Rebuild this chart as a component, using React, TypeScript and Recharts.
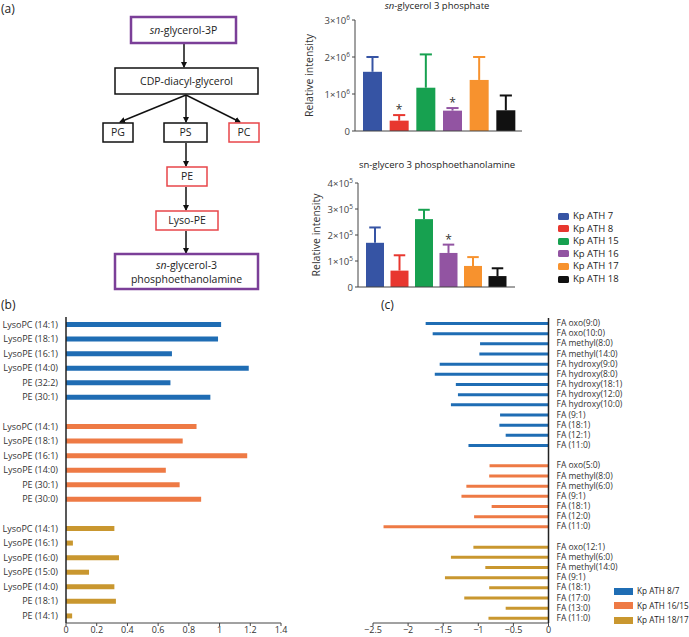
import * as React from "react";
import {
    BarChart, Bar, XAxis, YAxis, Cell, Label,
} from "recharts";

const FONT = "'Open Sans', sans-serif";

// panel (a) bar charts
const strains = ["Kp ATH 7", "Kp ATH 8", "Kp ATH 15", "Kp ATH 16", "Kp ATH 17", "Kp ATH 18"];
const strainColors = ["#3654a4", "#e8372f", "#17a150", "#9254a2", "#f7922e", "#111111"];

const g3pMean = [1.6e6, 0.28e6, 1.17e6, 0.55e6, 1.38e6, 0.56e6];
const g3pErr = [0.4e6, 0.15e6, 0.9e6, 0.07e6, 0.62e6, 0.4e6];
const g3pSig = [false, true, false, true, false, false];
const g3pTicks = [0, 1e6, 2e6, 3e6];

const gpeMean = [1.7e5, 0.63e5, 2.61e5, 1.31e5, 0.81e5, 0.42e5];
const gpeErr = [0.59e5, 0.59e5, 0.36e5, 0.32e5, 0.34e5, 0.3e5];
const gpeSig = [false, false, false, true, false, false];
const gpeTicks = [0, 1e5, 2e5, 3e5, 4e5];

// panel (b) lipids
const bBlueLabels = ["LysoPC (14:1)", "LysoPE (18:1)", "LysoPE (16:1)", "LysoPE (14:0)", "PE (32:2)", "PE (30:1)"];
const bBlueValues = [1.01, 0.99, 0.69, 1.19, 0.68, 0.94];
const bOrangeLabels = ["LysoPC (14:1)", "LysoPE (18:1)", "LysoPE (16:1)", "LysoPE (14:0)", "PE (30:1)", "PE (30:0)"];
const bOrangeValues = [0.85, 0.76, 1.18, 0.65, 0.74, 0.88];
const bGoldLabels = ["LysoPC (14:1)", "LysoPE (16:1)", "LysoPE (16:0)", "LysoPE (15:0)", "LysoPE (14:0)", "PE (18:1)", "PE (14:1)"];
const bGoldValues = [0.315, 0.045, 0.345, 0.15, 0.315, 0.325, 0.04];
const bTicks = [0, 0.2, 0.4, 0.6, 0.8, 1, 1.2, 1.4];

// panel (c) fatty acids
const cBlueLabels = ["FA oxo(9:0)", "FA oxo(10:0)", "FA methyl(8:0)", "FA methyl(14:0)", "FA hydroxy(9:0)", "FA hydroxy(8:0)",
    "FA hydroxy(18:1)", "FA hydroxy(12:0)", "FA hydroxy(10:0)", "FA (9:1)", "FA (18:1)", "FA (12:1)", "FA (11:0)"];
const cBlueValues = [-1.75, -1.65, -0.975, -0.985, -1.55, -1.62, -1.32, -1.29, -1.39, -0.69, -0.7, -0.61, -1.14];
const cOrangeLabels = ["FA oxo(5:0)", "FA methyl(8:0)", "FA methyl(6:0)", "FA (9:1)", "FA (18:1)", "FA (12:0)", "FA (11:0)"];
const cOrangeValues = [-0.84, -0.845, -1.17, -1.24, -0.81, -1.06, -2.35];
const cGoldLabels = ["FA oxo(12:1)", "FA methyl(6:0)", "FA methyl(14:0)", "FA (9:1)", "FA (18:1)", "FA (17:0)", "FA (13:0)", "FA (11:0)"];
const cGoldValues = [-1.07, -1.39, -0.9, -1.475, -0.845, -1.2, -0.61, -0.855];
const cTicks = [-2.5, -2, -1.5, -1, -0.5, 0];

const ratioNames = ["Kp ATH 8/7", "Kp ATH 16/15", "Kp ATH 18/17"];
const ratioColors = ["#1f6db4", "#ee7a45", "#c9972f"];

type Row = { key: string; label: string; value: number | null; group: number };

function buildRows(groups: Array<[string[], number[]]>): Row[] {
    const rows: Row[] = [];
    groups.forEach(([labels, values], g) => {
        if (g > 0) rows.push({ key: "gap" + g, label: "", value: null, group: -1 });
        labels.forEach((l, i) => rows.push({ key: g + "-" + i, label: l, value: values[i], group: g }));
    });
    return rows;
}

const bRows = buildRows([[bBlueLabels, bBlueValues], [bOrangeLabels, bOrangeValues], [bGoldLabels, bGoldValues]]);
const cRows = buildRows([[cBlueLabels, cBlueValues], [cOrangeLabels, cOrangeValues], [cGoldLabels, cGoldValues]]);

const g3pData = strains.map((s, i) => ({ name: s, value: g3pMean[i], err: g3pErr[i], sig: g3pSig[i] }));
const gpeData = strains.map((s, i) => ({ name: s, value: gpeMean[i], err: gpeErr[i], sig: gpeSig[i] }));

// bar + one-sided error bar, coloured per strain
const ErrBarShape = (props: any) => {
    const { x, y, width, height, payload, index } = props;
    if (!height || height <= 0) return null;
    const color = strainColors[index];
    const perUnit = height / payload.value;
    const top = y - payload.err * perUnit;
    const cx = x + width / 2;
    const cap = width * 0.32;
    return (
        <g>
            <line x1={cx} y1={y} x2={cx} y2={top} stroke={color} strokeWidth={2} />
            <line x1={cx - cap} x2={cx + cap} y1={top} y2={top} stroke={color} strokeWidth={2} />
            <rect x={x} y={y} width={width} height={height} fill={color} />
            {payload.sig && (
                <text x={cx} y={top - 1} textAnchor="middle" fontSize={12} fill="#333" fontFamily={FONT}>*</text>
            )}
        </g>
    );
};

const makeSciTick = (exp: number) => (props: any) => {
    const { x, y, payload } = props;
    const m = Math.round(payload.value / Math.pow(10, exp));
    return (
        <text x={x} y={y} dy={3.5} textAnchor="end" fontSize={9.5} fill="#444" fontFamily={FONT}>
            {m === 0 ? "0" : <>{m}×10<tspan dy={-4} fontSize={6.5}>{exp}</tspan></>}
        </text>
    );
};

// category tick that never wraps
const makeRowTick = (rows: Row[], anchor: "start" | "end", size: number) => (props: any) => {
    const { x, y, payload } = props;
    const row = rows.find((r) => r.key === payload.value);
    return (
        <text x={x} y={y} dy={size * 0.36} textAnchor={anchor} fontSize={size} fill="#333" fontFamily={FONT}>
            {row ? row.label : ""}
        </text>
    );
};

const Pathway = () => {
    const purple = "#7b3f98";
    const red = "#e8464a";
    const box = (x: number, y: number, w: number, h: number, stroke: string, sw: number) => (
        <rect x={x} y={y} width={w} height={h} fill="#fff" stroke={stroke} strokeWidth={sw} />
    );
    const arrow = (x1: number, y1: number, x2: number, y2: number) => (
        <line x1={x1} y1={y1} x2={x2} y2={y2} stroke="#111" strokeWidth={1.5} markerEnd="url(#ah)" />
    );
    const t = (x: number, y: number, s: React.ReactNode) => (
        <text x={x} y={y} textAnchor="middle" fontSize={10.5} fill="#222" fontFamily={FONT}>{s}</text>
    );
    return (
        <svg width={290} height={295} style={{ position: "absolute", left: 0, top: 0 }}>
            <defs>
                <marker id="ah" markerWidth={6} markerHeight={6} refX={5} refY={3} orient="auto" markerUnits="userSpaceOnUse">
                    <path d="M0,0 L6,3 L0,6 z" fill="#111" />
                </marker>
            </defs>
            {arrow(184, 44, 184, 67)}
            {arrow(186, 95, 120, 122)}
            {arrow(186, 95, 186, 122)}
            {arrow(186, 95, 240, 122)}
            {arrow(186, 143, 186, 166)}
            {arrow(186, 187, 186, 210)}
            {arrow(186, 231, 186, 253)}
            {box(131, 17, 105, 26, purple, 2.5)}
            {t(183.5, 34, <><tspan fontStyle="italic">sn</tspan>-glycerol-3P</>)}
            {box(115, 68, 143, 26, "#111", 1.5)}
            {t(186.5, 85, "CDP-diacyl-glycerol")}
            {box(103, 123, 30, 19, "#111", 1.5)}
            {t(118, 136, "PG")}
            {box(164, 123, 43, 19, "#111", 1.5)}
            {t(185.5, 136, "PS")}
            {box(229, 123, 30, 19, red, 1.5)}
            {t(244, 136, "PC")}
            {box(167, 167, 40, 19, red, 1.5)}
            {t(187, 180, "PE")}
            {box(156, 211, 62, 19, red, 1.5)}
            {t(187, 224, "Lyso-PE")}
            {box(115, 254, 143, 35, purple, 2.5)}
            {t(186.5, 269, <><tspan fontStyle="italic">sn</tspan>-glycerol-3</>)}
            {t(186.5, 283, "phosphoethanolamine")}
        </svg>
    );
};

const abs = (left: number, top: number, extra: React.CSSProperties = {}): React.CSSProperties => ({
    position: "absolute", left, top, fontFamily: FONT, color: "#222", whiteSpace: "nowrap", ...extra,
});

export default function App() {
    return (
        <div style={{ position: "absolute", left: 0, top: 0, width: 689, height: 637, background: "#fff", overflow: "hidden" }}>
            <div style={abs(1, 0, { fontSize: 12 })}>(a)</div>
            <div style={abs(1, 296, { fontSize: 12 })}>(b)</div>
            <div style={abs(381, 296, { fontSize: 12 })}>(c)</div>

            <Pathway />

            <div style={abs(337, 0, { width: 200, textAlign: "center", fontSize: 9.5, lineHeight: "12px" })}>
                <i>sn</i>-glycerol 3 phosphate
            </div>
            <div style={{ position: "absolute", left: 290, top: 0 }}>
                <BarChart width={240} height={145} data={g3pData} margin={{ top: 20, right: 8, bottom: 13, left: 0 }}>
                    <XAxis dataKey="name" tick={false} tickLine={false} height={1} stroke="#444"
                        padding={{ left: 4, right: 3 }} />
                    <YAxis domain={[0, 3e6]} ticks={g3pTicks} width={65} tickSize={3} stroke="#444"
                        tick={makeSciTick(6)} interval={0}>
                        <Label value="Relative intensity" angle={-90} position="insideLeft" offset={19}
                            style={{ textAnchor: "middle", fontSize: 10.5, fill: "#333", fontFamily: FONT }} />
                    </YAxis>
                    <Bar dataKey="value" barSize={19} shape={ErrBarShape} isAnimationActive={false} />
                </BarChart>
            </div>

            <div style={abs(337, 159, { width: 200, textAlign: "center", fontSize: 9.5, lineHeight: "12px" })}>
                sn-glycero 3 phosphoethanolamine
            </div>
            <div style={{ position: "absolute", left: 290, top: 150 }}>
                <BarChart width={235} height={150} data={gpeData} margin={{ top: 33, right: 10, bottom: 12, left: 0 }}>
                    <XAxis dataKey="name" tick={false} tickLine={false} height={1} stroke="#444"
                        padding={{ left: 5, right: 5 }} />
                    <YAxis domain={[0, 4e5]} ticks={gpeTicks} width={68} tickSize={3} stroke="#444"
                        tick={makeSciTick(5)} interval={0}>
                        <Label value="Relative intensity" angle={-90} position="insideLeft" offset={26}
                            style={{ textAnchor: "middle", fontSize: 10.5, fill: "#333", fontFamily: FONT }} />
                    </YAxis>
                    <Bar dataKey="value" barSize={18} shape={ErrBarShape} isAnimationActive={false} />
                </BarChart>
            </div>

            {strains.map((s, i) => (
                <div key={s} style={abs(558, 210 + i * 12.6, { fontSize: 9.5, lineHeight: "12px", display: "flex", alignItems: "center" })}>
                    <span style={{ display: "inline-block", width: 11, height: 7, borderRadius: 1.5, background: strainColors[i], marginRight: 4 }} />
                    {s}
                </div>
            ))}

            <div style={{ position: "absolute", left: 0, top: 300 }}>
                <BarChart width={290} height={337} data={bRows} layout="vertical"
                    margin={{ top: 17, right: 9, bottom: 0, left: 0 }}>
                    <XAxis type="number" domain={[0, 1.4]} ticks={bTicks} height={14} tickSize={3} tickMargin={1}
                        stroke="#444" tick={{ fontSize: 9, fill: "#333", fontFamily: FONT }} />
                    <YAxis type="category" dataKey="key" width={66} interval={0} tickLine={false}
                        axisLine={{ stroke: "#222", strokeWidth: 1.5 }}
                        tick={makeRowTick(bRows, "end", 9)} />
                    <Bar dataKey="value" barSize={5} isAnimationActive={false}>
                        {bRows.map((r) => <Cell key={r.key} fill={ratioColors[Math.max(r.group, 0)]} />)}
                    </Bar>
                </BarChart>
            </div>

            <div style={{ position: "absolute", left: 360, top: 300 }}>
                <BarChart width={329} height={337} data={cRows} layout="vertical"
                    margin={{ top: 18, right: 0, bottom: 0, left: 13 }}>
                    <XAxis type="number" domain={[-2.5, 0]} ticks={cTicks} height={14} tickSize={3} tickMargin={1}
                        stroke="#444" tickFormatter={(v: number) => String(v).replace("-", "\u2212")}
                        tick={{ fontSize: 9, fill: "#333", fontFamily: FONT }} />
                    <YAxis type="category" dataKey="key" orientation="right" width={140.5} interval={0} tickLine={false}
                        axisLine={{ stroke: "#222", strokeWidth: 1.5 }}
                        tick={makeRowTick(cRows, "start", 8.5)} />
                    <Bar dataKey="value" barSize={3} isAnimationActive={false}>
                        {cRows.map((r) => <Cell key={r.key} fill={ratioColors[Math.max(r.group, 0)]} />)}
                    </Bar>
                </BarChart>
            </div>

            {ratioNames.map((s, i) => (
                <div key={s} style={abs(614, 585 + i * 14.5, { fontSize: 8.2, lineHeight: "12px", display: "flex", alignItems: "center" })}>
                    <span style={{ display: "inline-block", width: 19, height: 7, background: ratioColors[i], marginRight: 4 }} />
                    {s}
                </div>
            ))}
        </div>
    );
}
